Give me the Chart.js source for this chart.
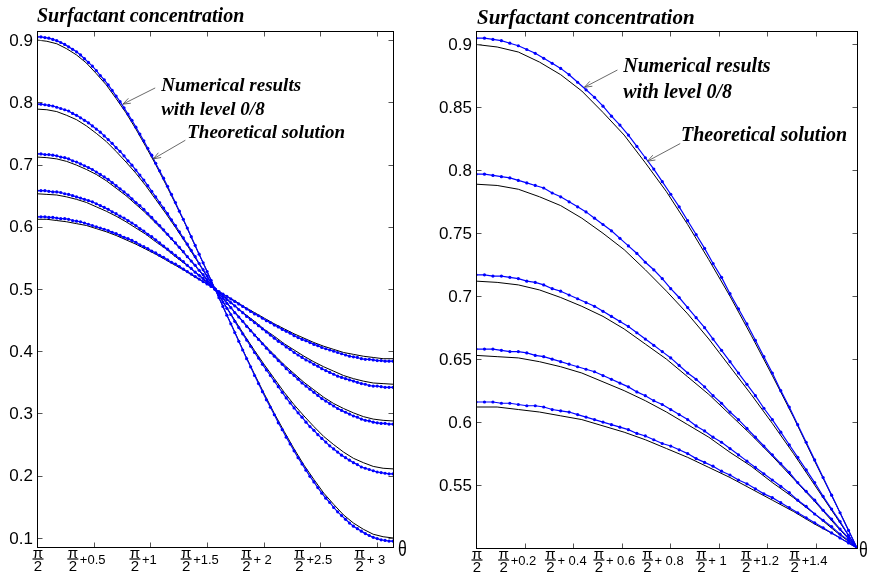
<!DOCTYPE html>
<html>
<head>
<meta charset="utf-8">
<script src="https://cdn.jsdelivr.net/npm/chart.js@4.4.0/dist/chart.umd.min.js"></script>
<style>
  html, body { margin: 0; padding: 0; background: #fff; }
  .panel { position: absolute; top: 0; height: 575px; }
  #leftWrap { left: 0; width: 430px; }
  #rightWrap { left: 430px; width: 443px; }
</style>
</head>
<body>
<div id="leftWrap" class="panel"><canvas id="leftChart" width="430" height="575"></canvas></div>
<div id="rightWrap" class="panel"><canvas id="rightChart" width="443" height="575"></canvas></div>
<script>
// angle past pi/2, in degrees
const numAngles = [0,2,4,6,8,10,12,14,16,18,20,22,24,26,28,30,32,34,36,38,40,42,44,46,48,50,52,54,56,58,60,62,64,66,68,70,72,74,76,78,80,82,84,86,88,90,
  92,94,96,98,100,102,104,106,108,110,112,114,116,118,120,122,124,126,128,130,132,134,136,138,140,142,144,146,148,150,152,154,156,158,160,162,164,166,168,170,172,174,176,178,180];
const theoAngles = [0,5,10,15,20,25,30,35,40,45,50,55,60,65,70,75,80,85,90,95,100,105,110,115,120,125,130,135,140,145,150,155,160,165,170,175,180];

// numerical results, level 0/8 (blue, dotted)
const numLevel1 = [0.905,0.905,0.904,0.903,0.901,0.899,0.896,0.893,0.889,0.885,0.881,0.876,0.870,0.864,0.858,0.851,0.843,0.836,0.828,0.819,0.810,0.801,0.791,0.781,0.771,0.760,0.749,0.738,0.726,0.715,0.702,0.690,0.678,0.665,0.652,0.639,0.625,0.612,0.598,0.584,0.570,0.556,0.542,0.528,0.514,0.500,
  0.486,0.472,0.458,0.444,0.430,0.416,0.402,0.388,0.375,0.361,0.348,0.335,0.322,0.310,0.298,0.285,0.274,0.262,0.251,0.240,0.229,0.219,0.209,0.199,0.190,0.181,0.172,0.164,0.157,0.149,0.142,0.136,0.130,0.124,0.119,0.115,0.111,0.107,0.104,0.101,0.099,0.097,0.096,0.095,0.095];
const numLevel2 = [0.797,0.797,0.796,0.795,0.794,0.792,0.790,0.788,0.786,0.782,0.779,0.775,0.771,0.767,0.762,0.757,0.752,0.746,0.740,0.734,0.727,0.721,0.714,0.706,0.699,0.691,0.683,0.675,0.666,0.657,0.648,0.639,0.630,0.621,0.611,0.602,0.592,0.582,0.572,0.562,0.552,0.541,0.531,0.521,0.510,0.500,
  0.490,0.479,0.469,0.459,0.448,0.438,0.428,0.418,0.408,0.398,0.389,0.379,0.370,0.361,0.352,0.343,0.334,0.325,0.317,0.309,0.301,0.294,0.286,0.279,0.273,0.266,0.260,0.254,0.248,0.243,0.238,0.233,0.229,0.225,0.221,0.218,0.214,0.212,0.210,0.208,0.206,0.205,0.204,0.203,0.203];
const numLevel3 = [0.717,0.717,0.716,0.716,0.715,0.714,0.712,0.711,0.709,0.706,0.704,0.701,0.698,0.695,0.692,0.688,0.684,0.680,0.676,0.671,0.666,0.661,0.656,0.651,0.645,0.639,0.634,0.628,0.621,0.615,0.608,0.602,0.595,0.588,0.581,0.574,0.567,0.560,0.552,0.545,0.538,0.530,0.523,0.515,0.508,0.500,
  0.492,0.485,0.477,0.470,0.462,0.455,0.448,0.440,0.433,0.426,0.419,0.412,0.405,0.398,0.392,0.385,0.379,0.372,0.366,0.361,0.355,0.349,0.344,0.339,0.334,0.329,0.324,0.320,0.316,0.312,0.308,0.305,0.302,0.299,0.296,0.294,0.291,0.289,0.288,0.286,0.285,0.284,0.284,0.283,0.283];
const numLevel4 = [0.658,0.658,0.658,0.657,0.656,0.656,0.655,0.653,0.652,0.650,0.648,0.646,0.644,0.642,0.640,0.637,0.634,0.631,0.628,0.624,0.621,0.617,0.614,0.610,0.606,0.602,0.597,0.593,0.588,0.584,0.579,0.574,0.569,0.564,0.559,0.554,0.549,0.544,0.538,0.533,0.527,0.522,0.517,0.511,0.506,0.500,
  0.494,0.489,0.483,0.478,0.473,0.467,0.462,0.456,0.451,0.446,0.441,0.436,0.431,0.426,0.421,0.416,0.412,0.407,0.403,0.398,0.394,0.390,0.386,0.383,0.379,0.376,0.372,0.369,0.366,0.363,0.360,0.358,0.356,0.354,0.352,0.350,0.348,0.347,0.345,0.344,0.344,0.343,0.342,0.342,0.342];
const numLevel5 = [0.616,0.616,0.616,0.615,0.615,0.614,0.613,0.613,0.612,0.610,0.609,0.608,0.606,0.604,0.602,0.600,0.598,0.596,0.594,0.591,0.589,0.586,0.583,0.581,0.578,0.575,0.571,0.568,0.565,0.561,0.558,0.554,0.551,0.547,0.543,0.540,0.536,0.532,0.528,0.524,0.520,0.516,0.512,0.508,0.504,0.500,
  0.496,0.492,0.488,0.484,0.480,0.476,0.472,0.468,0.464,0.460,0.457,0.453,0.449,0.446,0.442,0.439,0.435,0.432,0.429,0.425,0.422,0.419,0.417,0.414,0.411,0.409,0.406,0.404,0.402,0.400,0.398,0.396,0.394,0.392,0.391,0.390,0.388,0.387,0.387,0.386,0.385,0.385,0.384,0.384,0.384];

// theoretical solution (black)
const theoLevel1 = [0.900,0.898,0.894,0.886,0.876,0.863,0.846,0.828,0.806,0.783,0.757,0.729,0.700,0.669,0.637,0.604,0.569,0.535,0.500,0.465,0.431,0.396,0.363,0.331,0.300,0.271,0.243,0.217,0.194,0.172,0.154,0.137,0.124,0.114,0.106,0.102,0.100];
const theoLevel2 = [0.789,0.788,0.785,0.779,0.772,0.762,0.750,0.737,0.721,0.704,0.686,0.666,0.644,0.622,0.599,0.575,0.550,0.525,0.500,0.475,0.450,0.425,0.401,0.378,0.356,0.334,0.314,0.296,0.279,0.263,0.250,0.238,0.228,0.221,0.215,0.212,0.211];
const theoLevel3 = [0.712,0.711,0.709,0.705,0.699,0.692,0.684,0.674,0.662,0.650,0.636,0.622,0.606,0.590,0.573,0.555,0.537,0.518,0.500,0.482,0.463,0.445,0.427,0.410,0.394,0.378,0.364,0.350,0.338,0.326,0.316,0.308,0.301,0.295,0.291,0.289,0.288];
const theoLevel4 = [0.653,0.652,0.651,0.648,0.644,0.639,0.632,0.625,0.617,0.608,0.598,0.588,0.576,0.565,0.552,0.540,0.527,0.513,0.500,0.487,0.473,0.460,0.448,0.435,0.424,0.412,0.402,0.392,0.383,0.375,0.368,0.361,0.356,0.352,0.349,0.348,0.347];
const theoLevel5 = [0.612,0.612,0.610,0.608,0.605,0.602,0.597,0.592,0.586,0.579,0.572,0.564,0.556,0.547,0.538,0.529,0.519,0.510,0.500,0.490,0.481,0.471,0.462,0.453,0.444,0.436,0.428,0.421,0.414,0.408,0.403,0.398,0.395,0.392,0.390,0.388,0.388];

// ticks
const leftXTicks = [0, 0.5, 1, 1.5, 2, 2.5, 3];
const leftXLabels = ['', '+0.5', '+1', '+1.5', '+ 2', '+2.5', '+ 3'];
const leftYTicks = [0.1, 0.2, 0.3, 0.4, 0.5, 0.6, 0.7, 0.8, 0.9];
const leftYLabels = ['0.1', '0.2', '0.3', '0.4', '0.5', '0.6', '0.7', '0.8', '0.9'];
const rightXTicks = [0, 0.2, 0.4, 0.6, 0.8, 1, 1.2, 1.4];
const rightXLabels = ['', '+0.2', '+ 0.4', '+ 0.6', '+ 0.8', '+ 1', '+1.2', '+1.4'];
const rightYTicks = [0.55, 0.6, 0.65, 0.7, 0.75, 0.8, 0.85, 0.9];
const rightYLabels = ['0.55', '0.6', '0.65', '0.7', '0.75', '0.8', '0.85', '0.9'];

const numSeries = [numLevel1, numLevel2, numLevel3, numLevel4, numLevel5];
const theoSeries = [theoLevel1, theoLevel2, theoLevel3, theoLevel4, theoLevel5];

const titleText = 'Surfactant concentration';
const numNote = ['Numerical results', 'with level 0/8'];
const theoNote = 'Theoretical solution';

const SANS = '"Liberation Sans", Arial, sans-serif';
const SERIF = '"Liberation Serif", "Times New Roman", serif';

function toPoints(angles, values) {
  return angles.map((d, i) => ({ x: d * Math.PI / 180, y: values[i] }));
}

function buildDatasets() {
  const sets = [];
  numSeries.forEach(vals => sets.push({
    data: toPoints(numAngles, vals),
    borderColor: '#0000ff',
    backgroundColor: '#0000ff',
    borderWidth: 1.2,
    pointRadius: 1.6,
    pointBorderWidth: 0,
    tension: 0
  }));
  theoSeries.forEach(vals => sets.push({
    data: toPoints(theoAngles, vals),
    borderColor: '#000000',
    borderWidth: 1,
    pointRadius: 0,
    tension: 0
  }));
  return sets;
}

function drawArrow(ctx, x1, y1, x2, y2) {
  const ang = Math.atan2(y2 - y1, x2 - x1);
  const len = 8;
  ctx.beginPath();
  ctx.moveTo(x1, y1);
  ctx.lineTo(x2, y2);
  ctx.moveTo(x2 - len * Math.cos(ang - 0.35), y2 - len * Math.sin(ang - 0.35));
  ctx.lineTo(x2, y2);
  ctx.lineTo(x2 - len * Math.cos(ang + 0.35), y2 - len * Math.sin(ang + 0.35));
  ctx.stroke();
}

function panelDecor(cfg) {
  return {
    id: 'panelDecor',
    afterDatasetsDraw(chart) {
      const ctx = chart.ctx;
      const a = chart.chartArea;
      const xs = chart.scales.x, ys = chart.scales.y;
      const L = Math.round(a.left) + 0.5, R = Math.round(a.right) + 0.5;
      const T = Math.round(a.top) + 0.5, B = Math.round(a.bottom) + 0.5;
      ctx.save();

      // inward tick marks on all four sides
      ctx.strokeStyle = '#555';
      ctx.lineWidth = 1;
      ctx.beginPath();
      cfg.yTicks.forEach(v => {
        const y = Math.round(ys.getPixelForValue(v)) + 0.5;
        ctx.moveTo(L, y); ctx.lineTo(L + 5, y);
        ctx.moveTo(R, y); ctx.lineTo(R - 5, y);
      });
      cfg.xTicks.forEach(v => {
        const x = Math.round(xs.getPixelForValue(v)) + 0.5;
        ctx.moveTo(x, B); ctx.lineTo(x, B - 5);
        ctx.moveTo(x, T); ctx.lineTo(x, T + 5);
      });
      ctx.stroke();

      ctx.strokeStyle = '#000';
      ctx.strokeRect(L, T, R - L, B - T);

      // y tick labels
      ctx.fillStyle = '#000';
      ctx.font = '17px ' + SANS;
      ctx.textAlign = 'right';
      ctx.textBaseline = 'middle';
      cfg.yTicks.forEach((v, i) => ctx.fillText(cfg.yLabels[i], a.left - 4, ys.getPixelForValue(v) + 1));

      // x tick labels: pi over 2 plus offset
      cfg.xTicks.forEach((v, i) => {
        const tx = xs.getPixelForValue(v);
        const extra = cfg.xLabels[i];
        ctx.font = '13px ' + SANS;
        const w = extra ? ctx.measureText(extra).width : 0;
        const fracW = 10;
        const total = fracW + (extra ? 2 + w : 0);
        const start = tx - total / 2 - (extra ? 7 : -1);
        const cx = start + fracW / 2;
        ctx.font = '15px ' + SANS;
        ctx.textAlign = 'center';
        ctx.textBaseline = 'alphabetic';
        ctx.fillText('\u03c0', cx, B + 10);
        ctx.fillText('2', cx, B + 23);
        ctx.beginPath();
        ctx.moveTo(cx - 5.5, B + 11.5);
        ctx.lineTo(cx + 5.5, B + 11.5);
        ctx.lineWidth = 1.2;
        ctx.strokeStyle = '#000';
        ctx.stroke();
        if (extra) {
          ctx.font = '13px ' + SANS;
          ctx.textAlign = 'left';
          ctx.textBaseline = 'middle';
          ctx.fillText(extra, start + fracW + 2, B + 13);
        }
      });

      // theta axis label
      ctx.save();
      ctx.font = '22px ' + SANS;
      ctx.textAlign = 'left';
      ctx.textBaseline = 'middle';
      ctx.translate(a.right + cfg.thetaDx, a.bottom + 3);
      ctx.scale(0.72, 1);
      ctx.fillText('\u03b8', 0, 0);
      ctx.restore();

      // title
      ctx.font = 'bold italic ' + cfg.titleSize + 'px ' + SERIF;
      ctx.textAlign = 'left';
      ctx.textBaseline = 'alphabetic';
      ctx.fillText(titleText, a.left + cfg.titleDx, a.top - cfg.titleDy);

      // annotations
      ctx.font = 'bold italic ' + cfg.noteSize + 'px ' + SERIF;
      const px = p => [xs.getPixelForValue(p[0]), ys.getPixelForValue(p[1])];
      let p = px(cfg.numText);
      ctx.fillText(numNote[0], p[0], p[1]);
      ctx.fillText(numNote[1], p[0], p[1] + cfg.lineGap);
      p = px(cfg.theoText);
      ctx.fillText(theoNote, p[0], p[1]);

      ctx.strokeStyle = '#444';
      ctx.lineWidth = 0.8;
      let f = px(cfg.numArrow[0]), t = px(cfg.numArrow[1]);
      drawArrow(ctx, f[0], f[1], t[0], t[1]);
      f = px(cfg.theoArrow[0]); t = px(cfg.theoArrow[1]);
      drawArrow(ctx, f[0], f[1], t[0], t[1]);

      ctx.restore();
    }
  };
}

function makeChart(id, xMax, yMin, yMax, pad, cfg) {
  return new Chart(document.getElementById(id), {
    type: 'line',
    data: { datasets: buildDatasets() },
    options: {
      responsive: false,
      animation: false,
      events: [],
      layout: { padding: pad },
      plugins: { legend: { display: false }, tooltip: { enabled: false } },
      scales: {
        x: {
          type: 'linear', min: 0, max: xMax,
          ticks: { display: false },
          grid: { display: false, drawTicks: false },
          border: { display: false },
          afterFit: s => { s.height = 0; }
        },
        y: {
          type: 'linear', min: yMin, max: yMax,
          ticks: { display: false },
          grid: { display: false, drawTicks: false },
          border: { display: false },
          afterFit: s => { s.width = 0; }
        }
      }
    },
    plugins: [panelDecor(cfg)]
  });
}

makeChart('leftChart', Math.PI, 0.0855, 0.9145,
  { left: 37, right: 37, top: 31, bottom: 28 },
  {
    xTicks: leftXTicks, xLabels: leftXLabels, yTicks: leftYTicks, yLabels: leftYLabels,
    thetaDx: 5, titleSize: 20, titleDx: 0, titleDy: 9, noteSize: 19, lineGap: 24,
    numText: [1.096, 0.8186], theoText: [1.326, 0.7426],
    numArrow: [[1.043, 0.823], [0.758, 0.797]],
    theoArrow: [[1.309, 0.739], [1.026, 0.709]]
  });

makeChart('rightChart', Math.PI / 2, 0.5, 0.9107,
  { left: 46, right: 16, top: 31, bottom: 27 },
  {
    xTicks: rightXTicks, xLabels: rightXLabels, yTicks: rightYTicks, yLabels: rightYLabels,
    thetaDx: 2, titleSize: 21, titleDx: 1, titleDy: 7, noteSize: 20, lineGap: 26,
    numText: [0.607, 0.8781], theoText: [0.845, 0.8231],
    numArrow: [[0.583, 0.8797], [0.447, 0.866]],
    theoArrow: [[0.842, 0.8213], [0.707, 0.8073]]
  });
</script>
</body>
</html>
